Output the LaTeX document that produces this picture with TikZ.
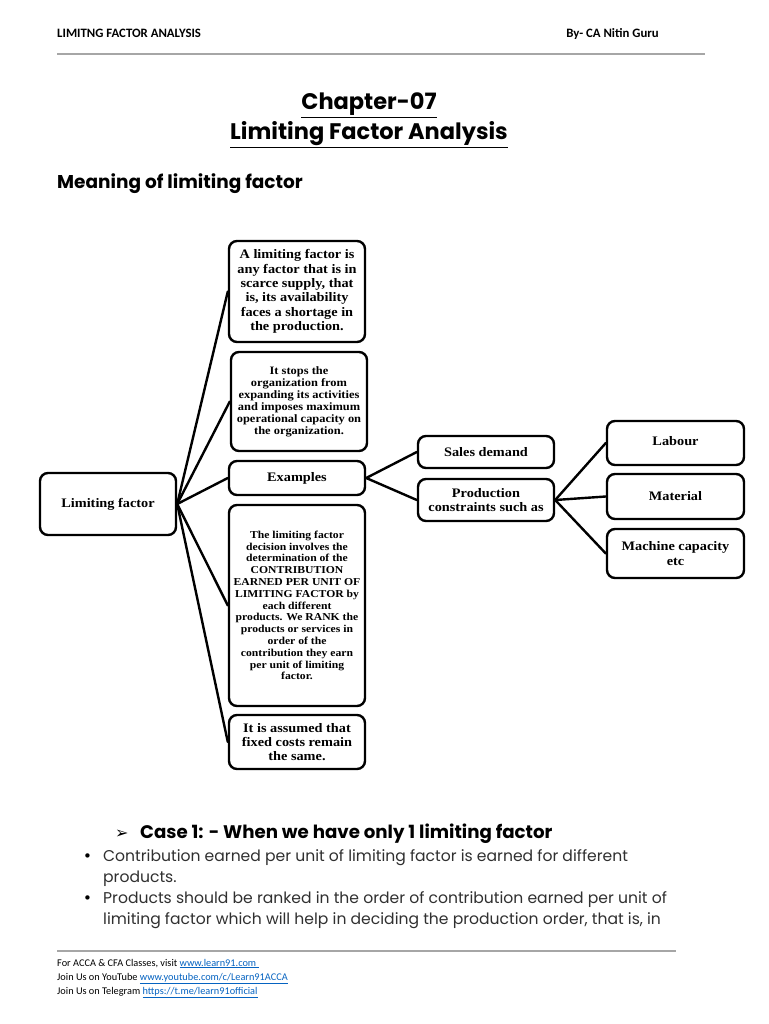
\documentclass[tikz,border=0pt]{standalone}
\usepackage{fontspec}
\setmainfont{Poppins}
\newfontfamily\hdr{Carlito}
\newfontfamily\boxf{Liberation Serif}[FakeStretch=1.1]
\newfontfamily\symf{DejaVu Sans}
\definecolor{linkblue}{HTML}{0563C1}
\definecolor{rulegray}{HTML}{A6A6A6}
\definecolor{bodytxt}{HTML}{303030}
\tikzset{
  bx/.style={draw=black, line width=2.4pt, rounded corners=8pt, align=center,
    inner sep=2pt, minimum width=#1, font=\boxf\bfseries\fontsize{13}{14.3}\selectfont},
  bx/.default=136pt,
  small/.style={font=\boxf\bfseries\fontsize{10.6}{11.8}\selectfont},
  conn/.style={line width=2.4pt, line cap=round},
  txt/.style={inner sep=0pt, anchor=base west},
}
\begin{document}
\begin{tikzpicture}[x=1pt,y=-1pt]
\useasboundingbox[fill=white] (0,0) rectangle (768,1024);
% header
\node[txt, font=\hdr\bfseries\fontsize{12.8}{14}\selectfont] (h1) at (57,38) {LIMITNG FACTOR ANALYSIS};
\node[inner sep=0pt, anchor=base east, font=\hdr\bfseries\fontsize{12.8}{14}\selectfont] (h2) at (659,38) {By- CA Nitin Guru};
\draw[rulegray, line width=1.2pt] (57,54) coordinate (hl1) -- (705,54) coordinate (hl2);
% titles
\node[inner sep=0pt, anchor=base, font=\bfseries\fontsize{22.5}{26}\selectfont] (t1) at (369,110) {\underline{Chapter-07}};
\node[inner sep=0pt, anchor=base, font=\bfseries\fontsize{22.5}{26}\selectfont] (t2) at (369,140) {\underline{Limiting Factor Analysis}};
\node[txt, font=\bfseries\fontsize{18.5}{21}\selectfont] (mean) at (57,189) {Meaning of limiting factor};
% boxes
\node[bx=136pt, minimum height=62pt] (lf) at (108,504) {Limiting factor};
\node[bx, minimum height=101pt] (b1) at (297,291.5) {A limiting factor is\\any factor that is in\\scarce supply, that\\is, its availability\\faces a shortage in\\the production.};
\node[bx, font=\boxf\bfseries\fontsize{11.3}{12}\selectfont, minimum height=99pt] (b2) at (299,401.5) {It stops the\\organization from\\expanding its activities\\and imposes maximum\\operational capacity on\\the organization.};
\node[bx, minimum height=34pt] (ex) at (297,478) {Examples};
\node[bx, small, minimum height=201pt] (b4) at (297,605.5) {The limiting factor\\decision involves the\\determination of the\\CONTRIBUTION\\EARNED PER UNIT OF\\LIMITING FACTOR by\\each different\\products. We RANK the\\products or services in\\order of the\\contribution they earn\\per unit of limiting\\factor.};
\node[bx, minimum height=54pt] (b5) at (297,742) {It is assumed that\\fixed costs remain\\the same.};
\node[bx, minimum height=32pt] (sd) at (486,452) {Sales demand};
\node[bx, minimum height=42pt] (pc) at (486,500) {Production\\constraints such as};
\node[bx=137pt, minimum height=44pt, text depth=4.5pt] (lab) at (675.5,443) {Labour};
\node[bx=137pt, minimum height=45pt] (mat) at (675.5,496.5) {Material};
\node[bx=137pt, minimum height=49pt] (mc) at (675.5,553.5) {Machine capacity\\etc};
% connectors
\foreach \t in {b1,b2,ex,b4,b5} \draw[conn] (lf.east) -- (\t.west);
\draw[conn] (ex.east) -- (sd.west);
\draw[conn] (ex.east) -- (pc.west);
\foreach \t in {lab,mat,mc} \draw[conn] (pc.east) -- (\t.west);
% case 1
\node[txt, font=\symf\fontsize{16}{18}\selectfont] (arr) at (115,838) {➢};
\node[txt, font=\bfseries\fontsize{18.2}{20}\selectfont] (case) at (140,838) {Case 1: - When we have only 1 limiting factor};
\begin{scope}[every node/.style={txt, text=bodytxt, font=\fontsize{15.6}{18}\selectfont}]
\node[font=\symf\fontsize{15}{18}\selectfont, text=black] (bu1) at (83,861) {•};
\node (l1) at (103,861) {Contribution earned per unit of limiting factor is earned for different};
\node (l2) at (103,882) {products.};
\node[font=\symf\fontsize{15}{18}\selectfont, text=black] (bu2) at (83,903) {•};
\node (l3) at (103,903) {Products should be ranked in the order of contribution earned per unit of};
\node (l4) at (103,924) {limiting factor which will help in deciding the production order, that is, in};
\end{scope}
% footer
\draw[rulegray, line width=1.2pt] (57,951) coordinate (fl1) -- (676,951) coordinate (fl2);
\begin{scope}[every node/.style={txt, font=\hdr\fontsize{10.3}{11}\selectfont}]
\node (f1) at (57,966) {For ACCA \& CFA Classes, visit \textcolor{linkblue}{\underline{www.learn91.com\ }}};
\node (f2) at (57,980) {Join Us on YouTube \textcolor{linkblue}{\underline{www.youtube.com/c/Learn91ACCA}}};
\node (f3) at (57,994) {Join Us on Telegram \textcolor{linkblue}{\underline{https://t.me/learn91official}}};
\end{scope}
\end{tikzpicture}
\end{document}
